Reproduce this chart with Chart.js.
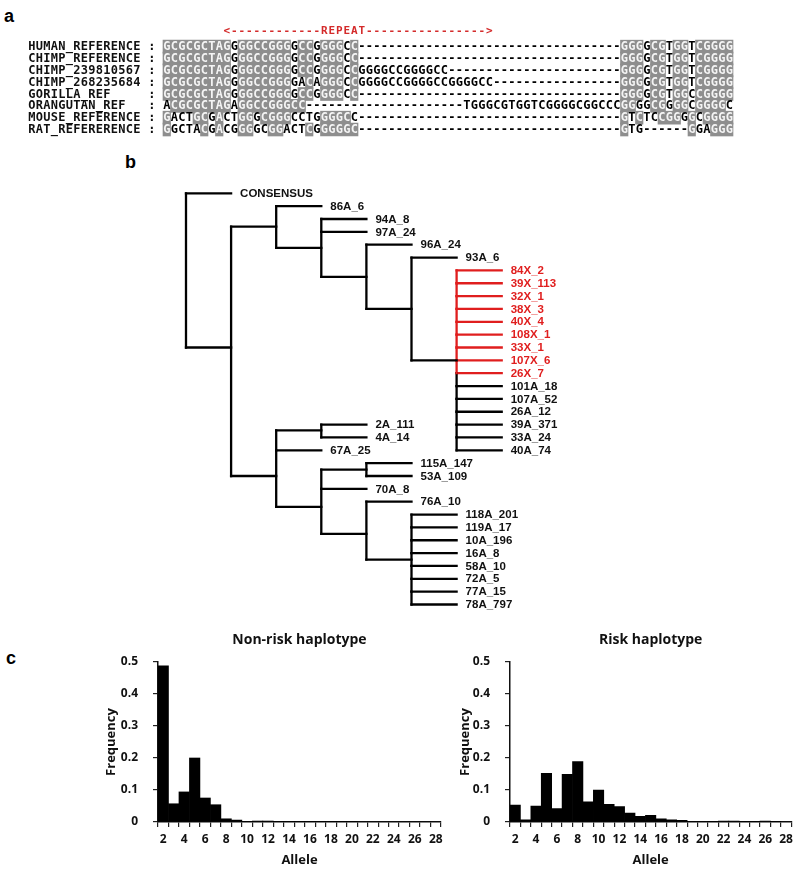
<!DOCTYPE html>
<html><head><meta charset="utf-8">
<script src="https://cdn.jsdelivr.net/npm/chart.js@4"></script>
<style>
body{margin:0;background:#fff;width:798px;height:869px;position:relative;overflow:hidden;font-family:"Liberation Sans",Arial,sans-serif}
canvas{position:absolute}
.lbl{position:absolute;font-weight:bold;font-size:18px;line-height:18px;color:#000}
</style></head><body>
<div class="lbl" style="left:4px;top:7px">a</div>
<div class="lbl" style="left:125px;top:153px">b</div>
<div class="lbl" style="left:6px;top:649px">c</div>
<canvas id="cAlign" width="798" height="150" style="left:0;top:0"></canvas>
<canvas id="cTree" width="798" height="470" style="left:0;top:150px"></canvas>
<canvas id="cNon" width="360" height="239" style="left:90px;top:630px"></canvas>
<canvas id="cRisk" width="388" height="239" style="left:410px;top:630px"></canvas>
<script>
// ---------------- DATA ----------------
// Panel a: alignment
const alignNames = ["HUMAN_REFERENCE","CHIMP_REFERENCE","CHIMP_239810567","CHIMP_268235684","GORILLA_REF","ORANGUTAN_REF","MOUSE_REFERENCE","RAT_REFERERENCE"];
const alignLength = 76;
// segments: [start column (1-based), text]; uncovered columns are gaps '-'
const alignSegments = [
  [[1,"GCGCGCTAGGGGCCGGGGCCGGGGCC"],[62,"GGGGCGTGGTCGGGG"]],
  [[1,"GCGCGCTAGGGGCCGGGGCCGGGGCC"],[62,"GGGGCGTGGTCGGGG"]],
  [[1,"GCGCGCTAGGGGCCGGGGCCGGGGCCGGGGCCGGGGCC"],[62,"GGGGCGTGGTCGGGG"]],
  [[1,"GCGCGCTAGGGGCCGGGGACAGGGCCGGGGCCGGGGCCGGGGCC"],[62,"GGGGCGTGGTCGGGG"]],
  [[1,"GCGCGCTAGGGGCCGGGGCCGGGGCC"],[62,"GGGGCGTGGCCGGGG"]],
  [[1,"ACGCGCTAGAGGCCGGGCC"],[41,"TGGGCGTGGTCGGGGCGGCCCGGGGCGGGGCGGGGC"]],
  [[1,"GACTGCGACTGGGCGGGCCTGGGGCC"],[62,"GTCTCCGGGGCGGGG"]],
  [[1,"GGCTACGACGGGGCGGACTCGGGGGC"],[62,"GTG"],[71,"GGAGGG"]]
];
// shaded (conserved) runs: [first col, last col]
const alignShaded = [
  [[1,9],[11,17],[19,20],[22,24],[26,26],[62,64],[66,67],[69,70],[72,76]],
  [[1,9],[11,17],[19,20],[22,24],[26,26],[62,64],[66,67],[69,70],[72,76]],
  [[1,9],[11,17],[19,20],[22,24],[26,26],[62,64],[66,67],[69,70],[72,76]],
  [[1,9],[11,17],[20,20],[22,24],[26,26],[62,64],[66,67],[69,70],[72,76]],
  [[1,9],[11,17],[19,20],[22,24],[26,26],[62,64],[66,67],[69,70],[72,76]],
  [[2,9],[11,17],[18,19],[62,63],[66,67],[69,70],[72,75]],
  [[1,1],[5,6],[8,8],[11,12],[14,17],[22,25],[62,62],[64,64],[67,69],[71,71],[73,76]],
  [[1,1],[6,6],[8,8],[11,12],[15,16],[20,20],[22,26],[62,62],[71,71],[74,76]]
];
const repeatLabel = "<------------REPEAT---------------->";
const repeatStartCol = 9;

// Panel b: tree
const treeId = ["root","CONSENSUS","nA","nB","86A_6","nC","94A_8","97A_24","nD","96A_24","nE","93A_6","nF",
  "84X_2","39X_113","32X_1","38X_3","40X_4","108X_1","33X_1","107X_6","26X_7",
  "101A_18","107A_52","26A_12","39A_371","33A_24","40A_74",
  "nG","nH","2A_111","4A_14","67A_25","nI","nJ","115A_147","53A_109","70A_8","nK","76A_10","nL",
  "118A_201","119A_17","10A_196","16A_8","58A_10","72A_5","77A_15","78A_797"];
const treeParent = [null,"root","root","nA","nB","nB","nC","nC","nC","nD","nD","nE","nE",
  "nF","nF","nF","nF","nF","nF","nF","nF","nF",
  "nF","nF","nF","nF","nF","nF",
  "nA","nG","nH","nH","nG","nG","nI","nJ","nJ","nI","nI","nK","nK",
  "nL","nL","nL","nL","nL","nL","nL","nL"];
const treeDepth = [0,1,1,2,3,3,4,4,4,5,5,6,6,
  7,7,7,7,7,7,7,7,7,
  7,7,7,7,7,7,
  2,3,4,4,3,3,4,5,5,4,4,5,5,
  6,6,6,6,6,6,6,6];
const treeRow = [6,0,12,2.6,1,4.25,2,3,6.5,4,9,5,13,
  6,7,8,9,10,11,12,13,14,
  15,16,17,18,19,20,
  22,18.45,18,19,20,24.4,21.5,21,22,23,26.5,24,28.5,
  25,26,27,28,29,30,31,32];
const treeRed = ["84X_2","39X_113","32X_1","38X_3","40X_4","108X_1","33X_1","107X_6","26X_7"];

// Panel c: allele frequency histograms
const alleles = ["2","3","4","5","6","7","8","9","10","11","12","13","14","15","16","17","18","19","20","21","22","23","24","25","26","27","28"];
const nonRiskFreq = [0.488,0.057,0.094,0.200,0.075,0.054,0.010,0.006,0.001,0.003,0.003,0.001,0.001,0.001,0.001,0.001,0.001,0.001,0.001,0,0,0,0,0,0,0,0];
const riskFreq = [0.053,0.007,0.050,0.152,0.042,0.149,0.189,0.063,0.100,0.055,0.048,0.028,0.018,0.021,0.010,0.007,0.005,0.002,0.002,0.001,0.003,0.003,0.001,0.001,0.003,0.001,0];

// ---------------- DRAWING ----------------
Chart.defaults.animation = false;
Chart.defaults.responsive = false;
Chart.defaults.events = [];

// ---- Panel a ----
const CW = 7.5, X0 = 28, RH = 14.2, Y0 = 41, AH = 150;
const shadedBars = [];
alignShaded.forEach((runs, r) => runs.forEach(([s, e]) => shadedBars.push({x: [17 + s, 18 + e], y: r})));
function rowText(r) {
  const arr = new Array(alignLength).fill('-');
  alignSegments[r].forEach(([s, t]) => { for (let i = 0; i < t.length; i++) arr[s - 1 + i] = t[i]; });
  return arr;
}
function isShaded(r, c) { return alignShaded[r].some(([s, e]) => c >= s && c <= e); }
const alignText = {
  id: 'alignText',
  afterDatasetsDraw(chart) {
    const ctx = chart.ctx, xs = chart.scales.x, ys = chart.scales.y;
    ctx.save();
    ctx.textAlign = 'center'; ctx.textBaseline = 'middle';
    alignNames.forEach((nm, r) => {
      const y = ys.getPixelForValue(r) + 0.5;
      const head = (nm.padEnd(16, ' ') + ':');
      ctx.font = 'bold 12px "DejaVu Sans Mono"';
      ctx.fillStyle = '#111';
      for (let i = 0; i < head.length; i++) if (head[i] !== ' ') ctx.fillText(head[i], xs.getPixelForValue(i + 0.5), y);
      const seq = rowText(r);
      seq.forEach((ch, k) => {
        const c = k + 1;
        ctx.fillStyle = isShaded(r, c) ? '#f4f4f4' : '#000';
        ctx.fillText(ch, xs.getPixelForValue(17 + c + 0.5), y);
      });
    });
    ctx.fillStyle = '#d42b2b';
    ctx.font = 'bold 11px "DejaVu Sans Mono"';
    const yR = ys.getPixelForValue(-1.34);
    for (let i = 0; i < repeatLabel.length; i++) ctx.fillText(repeatLabel[i], xs.getPixelForValue(17 + repeatStartCol + i + 0.5), yR);
    ctx.restore();
  }
};
new Chart(document.getElementById('cAlign'), {
  type: 'bar',
  data: {datasets: [{data: shadedBars, backgroundColor: '#8e8e8e', barThickness: 13, borderWidth: 0}]},
  options: {
    indexAxis: 'y', layout: {padding: 0},
    plugins: {legend: {display: false}, tooltip: {enabled: false}},
    scales: {
      x: {type: 'linear', display: false, min: -X0 / CW, max: (798 - X0) / CW},
      y: {type: 'linear', display: false, reverse: true, min: -Y0 / RH, max: -Y0 / RH + AH / RH}
    }
  },
  plugins: [alignText]
});

// ---- Panel b ----
const DX = 45.1, TX0 = 186, TRH = 12.85, TY0 = 43.3, TH = 470;
const idx = {}; treeId.forEach((id, i) => idx[id] = i);
const children = {}; treeId.forEach(id => children[id] = []);
treeParent.forEach((p, i) => { if (p) children[p].push(i); });
const isRed = i => treeRed.includes(treeId[i]);
const segs = [];
treeId.forEach((id, i) => {
  const p = treeParent[i];
  if (p) segs.push({pts: [{x: treeDepth[idx[p]], y: treeRow[i]}, {x: treeDepth[i], y: treeRow[i]}], red: isRed(i)});
  const ch = children[id].slice().sort((a, b) => treeRow[a] - treeRow[b]);
  for (let k = 0; k + 1 < ch.length; k++) {
    segs.push({pts: [{x: treeDepth[i], y: treeRow[ch[k]]}, {x: treeDepth[i], y: treeRow[ch[k + 1]]}], red: isRed(ch[k]) && isRed(ch[k + 1])});
  }
});
const treeLabels = {
  id: 'treeLabels',
  afterDatasetsDraw(chart) {
    const ctx = chart.ctx, xs = chart.scales.x, ys = chart.scales.y;
    ctx.save();
    ctx.font = 'bold 11.5px "Liberation Sans"';
    ctx.textAlign = 'left'; ctx.textBaseline = 'middle';
    treeId.forEach((id, i) => {
      if (children[id].length) return;
      ctx.fillStyle = isRed(i) ? '#e01e1e' : '#111';
      ctx.fillText(id, xs.getPixelForValue(treeDepth[i]) + 9, ys.getPixelForValue(treeRow[i]) + 0.5);
    });
    ctx.restore();
  }
};
new Chart(document.getElementById('cTree'), {
  type: 'scatter',
  data: {datasets: segs.map(s => ({data: s.pts, showLine: true, borderColor: s.red ? '#e01e1e' : '#000', borderWidth: 2.3, pointRadius: 0, borderCapStyle: 'square', fill: false}))},
  options: {
    layout: {padding: 0},
    plugins: {legend: {display: false}, tooltip: {enabled: false}},
    scales: {
      x: {type: 'linear', display: false, min: -TX0 / DX, max: (798 - TX0) / DX},
      y: {type: 'linear', display: false, reverse: true, min: -TY0 / TRH, max: -TY0 / TRH + TH / TRH}
    }
  },
  plugins: [treeLabels]
});

// ---- Panel c ----
const FONT_C = '"Open Sans"';
const panelTitle = {
  id: 'panelTitle',
  afterDraw(chart, args, opts) {
    const a = chart.chartArea, ctx = chart.ctx;
    ctx.save();
    ctx.font = 'bold 14px ' + FONT_C;
    ctx.fillStyle = '#111';
    ctx.textAlign = 'center'; ctx.textBaseline = 'middle';
    ctx.fillText(opts.text, (a.left + a.right) / 2, a.top - 22);
    ctx.restore();
  }
};
const tickFont = {family: FONT_C, weight: 'bold', size: 12};
function makeHist(id, values, title, padLeft, yWidth, padRight) {
  new Chart(document.getElementById(id), {
    type: 'bar',
    data: {labels: alleles, datasets: [{data: values, backgroundColor: '#000', borderWidth: 0, categoryPercentage: 1, barPercentage: 1}]},
    options: {
      layout: {padding: {left: padLeft, right: padRight, top: 32, bottom: 0}},
      plugins: {legend: {display: false}, tooltip: {enabled: false}, panelTitle: {text: title}},
      scales: {
        x: {
          type: 'category', offset: true,
          grid: {display: true, offset: true, drawOnChartArea: false, drawTicks: true, tickLength: 5, color: '#222', lineWidth: 1.2},
          border: {display: true, color: '#111', width: 1.5},
          ticks: {autoSkip: false, maxRotation: 0, minRotation: 0, padding: 5, color: '#111', font: tickFont,
            callback: (v, i) => (i % 2 === 0 ? alleles[i] : '')},
          title: {display: true, text: 'Allele', color: '#111', font: {family: FONT_C, weight: 'bold', size: 13}, padding: {top: 2, bottom: 1}},
          afterFit: s => { s.height = 47; }
        },
        y: {
          min: 0, max: 0.5,
          ticks: {stepSize: 0.1, padding: 15, color: '#111', font: tickFont},
          grid: {display: true, drawOnChartArea: false, drawTicks: true, tickLength: 5, color: '#222', lineWidth: 1.2},
          border: {display: true, color: '#111', width: 1.5},
          title: {display: true, text: 'Frequency', color: '#111', font: {family: FONT_C, weight: 'bold', size: 13}, padding: {top: 2, bottom: 2}},
          afterFit: s => { s.width = yWidth; }
        }
      }
    },
    plugins: [panelTitle]
  });
}
makeHist('cNon', nonRiskFreq, 'Non-risk haplotype', 11, 57, 9);
makeHist('cRisk', riskFreq, 'Risk haplotype', 45, 55, 2);
</script>
</body></html>
